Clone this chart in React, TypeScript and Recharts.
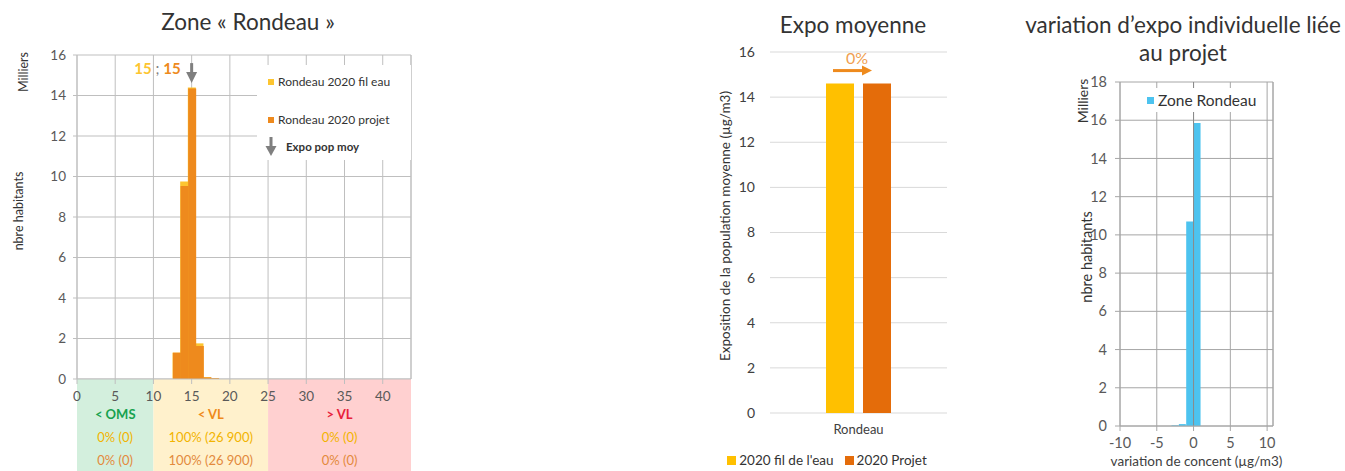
import {
  Bar,
  BarChart,
  CartesianGrid,
  LabelList,
  Legend,
  ReferenceArea,
  ReferenceDot,
  ReferenceLine,
  XAxis,
  YAxis,
} from "recharts";

const FONT = "Lato, 'Open Sans', sans-serif";
const INK = "#333333";
const TICK = "#595959";
const GRID = "#bfbfbf";

// Zone « Rondeau » : habitants (milliers) par classe de concentration (µg/m3)
const rondeauBins = [12, 13, 14, 15, 16, 17, 18, 19];
const rondeauFilEau = [0, 1.3, 9.75, 14.4, 1.76, 0.09, 0.04, 0];
const rondeauProjet = [0, 1.3, 9.53, 14.35, 1.63, 0.08, 0.04, 0];
const rondeauExpoMoy = [15, 15]; // fil eau ; projet
const concentTicks = [0, 5, 10, 15, 20, 25, 30, 35, 40];
const CONCENT_MAX = 43.7;
const habitantsTicks = [0, 2, 4, 6, 8, 10, 12, 14, 16];

// bandeau des seuils sous l'axe
const zoneBounds = [0, 10, 25, CONCENT_MAX];
const zoneNames = ["< OMS", "< VL", "> VL"];
const zoneFilEau = ["0% (0)", "100% (26 900)", "0% (0)"];
const zoneProjet = ["0% (0)", "100% (26 900)", "0% (0)"];
const zoneFills = ["#d3efdd", "#fff1cc", "#ffd0d0"];
const zoneInk = ["#17a24f", "#ef8a1a", "#e8213a"];

// Expo moyenne (µg/m3)
const expoCategories = ["Rondeau"];
const expoFilEau = [14.6];
const expoProjet = [14.6];
const expoTicks = [0, 2, 4, 6, 8, 10, 12, 14, 16];

// variation d'expo individuelle (µg/m3) -> habitants (milliers)
const variationBins = [-2.5, -1.5, -0.5, 0.5];
const variationHabitants = [0.03, 0.1, 10.7, 15.85];
const variationTicks = [-10, -5, 0, 5, 10];
const VARIATION_MAX = 10.8;
const variationHabTicks = [0, 2, 4, 6, 8, 10, 12, 14, 16, 18];

const YELLOW_L = "#fdc530";
const ORANGE_L = "#ee8a1d";
const YELLOW_M = "#ffc000";
const ORANGE_M = "#e46c0a";
const BLUE = "#4dc3ef";

const rondeauData = rondeauBins.map((bin, i) => ({
  bin,
  filEau: rondeauFilEau[i],
  projet: rondeauProjet[i],
}));
const expoData = expoCategories.map((name, i) => ({
  name,
  filEau: expoFilEau[i],
  projet: expoProjet[i],
}));
const variationData = variationBins.map((bin, i) => ({
  bin,
  habitants: variationHabitants[i],
}));

function sideLabel(text: string, left: number, top: number, size = 11) {
  return (
    <div
      style={{
        position: "absolute",
        left,
        top,
        transform: "translate(-50%, -50%) rotate(-90deg)",
        whiteSpace: "nowrap",
        fontFamily: FONT,
        fontSize: size,
        color: INK,
      }}
    >
      {text}
    </div>
  );
}

function Title({ center, top, children }: any) {
  return (
    <div
      style={{
        position: "absolute",
        left: center - 200,
        width: 400,
        top,
        textAlign: "center",
        fontFamily: FONT,
        fontSize: 22.5,
        lineHeight: "28px",
        color: INK,
      }}
    >
      {children}
    </div>
  );
}

function ZoneText({ viewBox, i }: any) {
  const cx = viewBox.x + viewBox.width / 2;
  const y = viewBox.y;
  return (
    <g fontFamily={FONT} textAnchor="middle" fontSize={13}>
      <text x={cx} y={y + 40} fill={zoneInk[i]} fontWeight={700}>
        {zoneNames[i]}
      </text>
      <text x={cx} y={y + 63} fill="#f2b400">
        {zoneFilEau[i]}
      </text>
      <text x={cx} y={y + 86} fill="#e38a3c">
        {zoneProjet[i]}
      </text>
    </g>
  );
}

function ExpoArrow({ cx, cy }: any) {
  return (
    <g>
      <text
        x={cx - 11}
        y={cy + 11}
        textAnchor="end"
        fontFamily={FONT}
        fontSize={15}
        fontWeight={700}
      >
        <tspan fill={YELLOW_L}>{rondeauExpoMoy[0]}</tspan>
        <tspan fill="#7f7f7f" fontWeight={400}>
          {" ; "}
        </tspan>
        <tspan fill={ORANGE_L}>{rondeauExpoMoy[1]}</tspan>
      </text>
      <rect x={cx - 1.5} y={cy} width={3} height={10} fill="#7f7f7f" />
      <path
        d={`M${cx - 5.5},${cy + 9} L${cx + 5.5},${cy + 9} L${cx},${cy + 20} Z`}
        fill="#7f7f7f"
      />
    </g>
  );
}

function RondeauLegend({ payload }: any) {
  const items = [...(payload ?? [])];
  return (
    <div
      style={{
        position: "relative",
        width: 154,
        height: 95,
        background: "#fff",
        fontFamily: FONT,
        fontSize: 12,
        color: INK,
      }}
    >
      {items.map((p: any, i: number) => (
        <div
          key={p.value}
          style={{
            position: "absolute",
            left: 11,
            top: 9 + i * 38,
            display: "flex",
            alignItems: "center",
            whiteSpace: "nowrap",
          }}
        >
          <span
            style={{ width: 6, height: 6, background: p.color, marginRight: 4 }}
          />
          {p.value}
        </div>
      ))}
      <svg
        width={12}
        height={20}
        style={{ position: "absolute", left: 8, top: 72 }}
      >
        <rect x={4.5} y={0} width={3} height={10} fill="#7f7f7f" />
        <path d="M0.5,9 L11.5,9 L6,19 Z" fill="#7f7f7f" />
      </svg>
      <div
        style={{
          position: "absolute",
          left: 29,
          top: 75,
          fontSize: 11.5,
          fontWeight: 700,
          whiteSpace: "nowrap",
        }}
      >
        Expo pop moy
      </div>
    </div>
  );
}

function ExpoLegend({ payload }: any) {
  const order = ["2020 fil de l'eau", "2020 Projet"];
  const items = [...(payload ?? [])].sort(
    (a: any, b: any) => order.indexOf(a.value) - order.indexOf(b.value),
  );
  return (
    <div
      style={{
        display: "flex",
        justifyContent: "center",
        gap: 11,
        fontFamily: FONT,
        fontSize: 13.5,
        color: INK,
      }}
    >
      {items.map((p: any) => (
        <div
          key={p.value}
          style={{ display: "flex", alignItems: "center", whiteSpace: "nowrap" }}
        >
          <span
            style={{ width: 9, height: 9, background: p.color, marginRight: 3 }}
          />
          {p.value}
        </div>
      ))}
    </div>
  );
}

function VariationLegend({ payload }: any) {
  return (
    <div
      style={{
        width: 108,
        height: 24,
        background: "#fff",
        display: "flex",
        alignItems: "center",
        paddingLeft: 4,
        boxSizing: "border-box",
        fontFamily: FONT,
        fontSize: 15.5,
        color: INK,
        whiteSpace: "nowrap",
      }}
    >
      {(payload ?? []).map((p: any) => (
        <span key={p.value} style={{ display: "flex", alignItems: "center" }}>
          <span
            style={{ width: 7, height: 7, background: p.color, marginRight: 4 }}
          />
          {p.value}
        </span>
      ))}
    </div>
  );
}

function ChangeArrow({ x, y }: any) {
  const change = Math.round(
    ((expoProjet[0] - expoFilEau[0]) / expoFilEau[0]) * 100,
  );
  return (
    <g>
      <text
        x={x - 6}
        y={y - 20}
        textAnchor="middle"
        fontFamily={FONT}
        fontSize={16}
        fill="#f0a050"
      >
        {`${change}%`}
      </text>
      <rect x={x - 30} y={y - 14.5} width={30} height={3} fill={ORANGE_L} />
      <path
        d={`M${x - 1},${y - 18} L${x + 9},${y - 13} L${x - 1},${y - 8} Z`}
        fill={ORANGE_L}
      />
    </g>
  );
}

export default function App() {
  const tick = { fontSize: 13.5, fill: TICK, fontFamily: FONT };
  return (
    <div
      style={{
        position: "relative",
        width: 1345,
        height: 471,
        background: "#fff",
        overflow: "hidden",
      }}
    >
      <style>{"body{margin:0;background:#fff}"}</style>

      <Title center={248} top={8}>
        Zone « Rondeau »
      </Title>
      <Title center={853} top={11}>
        Expo moyenne
      </Title>
      <Title center={1183} top={11}>
        variation d’expo individuelle liée
        <br />
        au projet
      </Title>

      {/* histogramme de la zone Rondeau */}
      <div style={{ position: "absolute", left: 0, top: 0 }}>
        <BarChart
          width={430}
          height={471}
          data={rondeauData}
          margin={{ top: 55, right: 19, left: 47, bottom: 0 }}
          barCategoryGap={0}
          barGap="-100%"
        >
          {zoneNames.map((z, i) => (
            <ReferenceArea
              key={z}
              x1={zoneBounds[i]}
              x2={zoneBounds[i + 1]}
              y1={0}
              y2={-4.6}
              ifOverflow="visible"
              fill={zoneFills[i]}
              fillOpacity={1}
              stroke="none"
              label={(p: any) => <ZoneText viewBox={p.viewBox} i={i} />}
            />
          ))}
          <CartesianGrid stroke={GRID} />
          <ReferenceLine x={CONCENT_MAX} stroke={GRID} />
          <XAxis
            dataKey="bin"
            type="number"
            domain={[0, CONCENT_MAX]}
            ticks={concentTicks}
            height={92}
            tick={tick}
            tickSize={5}
            tickMargin={7}
            stroke={GRID}
          />
          <YAxis
            domain={[0, 16]}
            ticks={habitantsTicks}
            width={30}
            tick={tick}
            tickSize={4}
            tickMargin={7}
            stroke={GRID}
          />
          <Bar
            dataKey="filEau"
            name="Rondeau 2020 fil eau"
            fill={YELLOW_L}
            isAnimationActive={false}
          />
          <Bar
            dataKey="projet"
            name="Rondeau 2020 projet"
            fill={ORANGE_L}
            isAnimationActive={false}
          />
          <ReferenceDot
            x={rondeauExpoMoy[1]}
            y={15.6}
            shape={(p: any) => <ExpoArrow {...p} />}
          />
          <Legend
            verticalAlign="middle"
            align="center"
            wrapperStyle={{ left: 257, top: 65, width: 154, height: 95 }}
            content={(p: any) => <RondeauLegend payload={p.payload} />}
          />
        </BarChart>
      </div>
      {sideLabel("Milliers", 23, 72, 12.5)}
      {sideLabel("nbre habitants", 18, 211, 12.5)}

      {/* expo moyenne */}
      <div style={{ position: "absolute", left: 700, top: 0 }}>
        <BarChart
          width={260}
          height={471}
          data={expoData}
          margin={{ top: 52, right: 13, left: 0, bottom: 28 }}
          barSize={28}
          barGap={9}
        >
          <CartesianGrid stroke="#d9d9d9" vertical={false} />
          <XAxis
            dataKey="name"
            height={30}
            axisLine={false}
            tickLine={false}
            tick={{ ...tick, fontSize: 13, fill: "#404040" }}
            tickSize={6}
            tickMargin={6}
          />
          <YAxis
            domain={[0, 16]}
            ticks={expoTicks}
            width={70}
            axisLine={false}
            tickLine={false}
            tick={{ ...tick, fontSize: 14, fill: "#404040" }}
            tickSize={6}
            tickMargin={9}
          />
          <Bar
            dataKey="filEau"
            name="2020 fil de l'eau"
            fill={YELLOW_M}
            isAnimationActive={false}
          />
          <Bar
            dataKey="projet"
            name="2020 Projet"
            fill={ORANGE_M}
            isAnimationActive={false}
          >
            <LabelList content={(p: any) => <ChangeArrow {...p} />} />
          </Bar>
          <Legend
            verticalAlign="middle"
            align="center"
            wrapperStyle={{ left: -3, top: 452, width: 260, height: 20 }}
            content={(p: any) => <ExpoLegend payload={p.payload} />}
          />
        </BarChart>
      </div>
      {sideLabel("Exposition de la population moyenne (µg/m3)", 725, 226, 13.5)}

      {/* variation individuelle */}
      <div style={{ position: "absolute", left: 1040, top: 0 }}>
        <BarChart
          width={253}
          height={471}
          data={variationData}
          margin={{ top: 82, right: 20, left: 40, bottom: 0 }}
          barCategoryGap={0}
        >
          <CartesianGrid stroke="#a6a6a6" />
          <ReferenceLine x={VARIATION_MAX} stroke="#a6a6a6" />
          <XAxis
            dataKey="bin"
            type="number"
            domain={[-10, VARIATION_MAX]}
            ticks={variationTicks}
            height={45}
            tick={{ ...tick, fontSize: 14.5 }}
            tickSize={5}
            tickMargin={7}
            stroke="#a6a6a6"
            label={{
              value: "variation de concent (µg/m3)",
              position: "insideBottom",
              offset: 5,
              fill: "#404040",
              fontSize: 13.5,
              fontFamily: FONT,
            }}
          />
          <YAxis
            domain={[0, 18]}
            ticks={variationHabTicks}
            width={40}
            tick={{ ...tick, fontSize: 14.5 }}
            tickSize={5}
            tickMargin={8}
            stroke="#a6a6a6"
          />
          <Bar
            dataKey="habitants"
            name="Zone Rondeau"
            fill={BLUE}
            isAnimationActive={false}
          />
          <ReferenceLine x={0} stroke="#8a8a8a" />
          <Legend
            verticalAlign="middle"
            align="center"
            wrapperStyle={{ left: 103, top: 88, width: 108, height: 24 }}
            content={(p: any) => <VariationLegend payload={p.payload} />}
          />
        </BarChart>
      </div>
      {sideLabel("Milliers", 1082, 101, 14)}
      {sideLabel("nbre habitants", 1086, 257, 14.5)}
    </div>
  );
}
